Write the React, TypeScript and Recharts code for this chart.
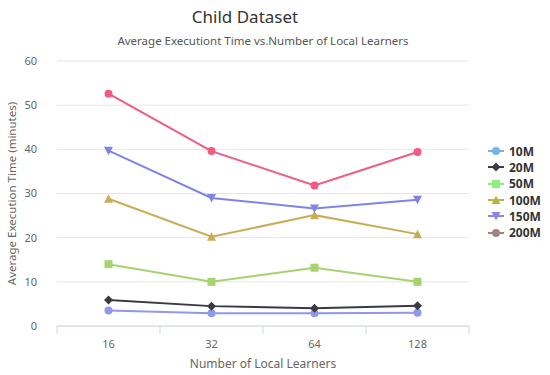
import React from 'react';
import {
  LineChart,
  Line,
  XAxis,
  YAxis,
  CartesianGrid,
  Legend,
  ReferenceLine,
} from 'recharts';

const categories = ['16', '32', '64', '128'];
const yTicks = [0, 10, 20, 30, 40, 50, 60];

const s10M = [3.5, 2.9, 2.9, 3.0];
const s20M = [5.9, 4.5, 4.0, 4.6];
const s50M = [14.0, 10.0, 13.2, 10.0];
const s100M = [28.8, 20.2, 25.1, 20.8];
const s150M = [39.7, 29.0, 26.6, 28.6];
const s200M = [52.6, 39.6, 31.8, 39.4];

const seriesNames = ['10M', '20M', '50M', '100M', '150M', '200M'];
const seriesValues = [s10M, s20M, s50M, s100M, s150M, s200M];
const lineColors = ['#8f98ea', '#3a3a40', '#a5d46f', '#c9ad56', '#7f84e6', '#f25a80'];
const legendColors = ['#72b3ea', '#3a3a40', '#8ef07e', '#b9b443', '#8a85ea', '#9c8583'];
const markers = ['circle', 'diamond', 'square', 'triangle', 'triangle-down', 'circle'];

const data = categories.map((c, i) => {
  const row: Record<string, number | string> = { idx: i, cat: c };
  seriesNames.forEach((name, k) => {
    row[name] = seriesValues[k][i];
  });
  return row;
});

const boundaries = [...categories.map((_, i) => i - 0.5), categories.length - 0.5];

const FONT = '"Noto Sans", "DejaVu Sans", sans-serif';

function Marker({ type, cx, cy, color }: { type: string; cx: number; cy: number; color: string }) {
  if (cx == null || cy == null) return null;
  switch (type) {
    case 'diamond':
      return <path d={`M${cx},${cy - 4.5}L${cx + 4.5},${cy}L${cx},${cy + 4.5}L${cx - 4.5},${cy}Z`} fill={color} />;
    case 'square':
      return <rect x={cx - 4} y={cy - 4} width={8} height={8} fill={color} />;
    case 'triangle':
      return <path d={`M${cx},${cy - 4.5}L${cx + 4.5},${cy + 4}L${cx - 4.5},${cy + 4}Z`} fill={color} />;
    case 'triangle-down':
      return <path d={`M${cx - 4.5},${cy - 4}L${cx + 4.5},${cy - 4}L${cx},${cy + 4.5}Z`} fill={color} />;
    default:
      return <circle cx={cx} cy={cy} r={4} fill={color} />;
  }
}

function LegendBox() {
  return (
    <div style={{ fontFamily: FONT }}>
      {seriesNames.map((name, i) => (
        <div
          key={name}
          style={{ display: 'flex', alignItems: 'center', height: 16.3, fontSize: 12, fontWeight: 'bold', color: '#333' }}
        >
          <svg width={16} height={12} style={{ marginRight: 5 }}>
            <line x1={0} y1={6} x2={16} y2={6} stroke={legendColors[i]} strokeWidth={2} />
            <Marker type={markers[i]} cx={8} cy={6} color={legendColors[i]} />
          </svg>
          {name}
        </div>
      ))}
    </div>
  );
}

export default function App() {
  return (
    <div style={{ position: 'absolute', left: 0, top: 0, width: 550, height: 375, background: '#fff' }}>
      <div
        style={{ position: 'absolute', top: 5, left: 145, width: 200, textAlign: 'center', fontFamily: FONT, fontSize: 17, color: '#333' }}
      >
        Child Dataset
      </div>
      <div
        style={{ position: 'absolute', top: 33, left: 63, width: 400, textAlign: 'center', fontFamily: FONT, fontSize: 11.5, color: '#555' }}
      >
        Average Executiont Time vs.Number of Local Learners
      </div>
      <LineChart width={550} height={375} data={data} margin={{ top: 61, right: 81, left: 0, bottom: 0 }}>
        <CartesianGrid horizontal vertical={false} stroke="#e6e6e6" />
        <XAxis
          dataKey="idx"
          type="number"
          domain={[-0.5, categories.length - 0.5]}
          ticks={categories.map((_, i) => i)}
          tickFormatter={(v: number) => categories[v]}
          height={49}
          axisLine={{ stroke: '#ccd6eb' }}
          tickLine={false}
          tick={{ fill: '#666', fontSize: 11, fontFamily: FONT }}
          tickMargin={8}
          label={{ value: 'Number of Local Learners', position: 'insideBottom', offset: 7, fill: '#666', fontSize: 12, fontFamily: FONT }}
        />
        <YAxis
          domain={[0, 60]}
          ticks={yTicks}
          width={57}
          axisLine={false}
          tickLine={false}
          tick={{ fill: '#666', fontSize: 11, fontFamily: FONT }}
          tickMargin={14}
          label={{
            value: 'Average Execution Time (minutes)',
            angle: -90,
            position: 'insideLeft',
            offset: 12,
            style: { textAnchor: 'middle' },
            fill: '#666',
            fontSize: 11.5,
            fontFamily: FONT,
          }}
        />
        {boundaries.map((b) => (
          <ReferenceLine
            key={b}
            segment={[{ x: b, y: 0 }, { x: b, y: -1.8 }]}
            stroke="#ccd6eb"
            ifOverflow="visible"
          />
        ))}
        {seriesNames.map((name, i) => (
          <Line
            key={name}
            dataKey={name}
            stroke={lineColors[i]}
            strokeWidth={2}
            isAnimationActive={false}
            dot={(p: any) => <Marker key={`${name}-${p.index}`} type={markers[i]} cx={p.cx} cy={p.cy} color={lineColors[i]} />}
            activeDot={false}
          />
        ))}
        <Legend
          layout="vertical"
          align="center"
          verticalAlign="middle"
          wrapperStyle={{ left: 488, top: 143, width: 62 }}
          content={() => <LegendBox />}
        />
      </LineChart>
    </div>
  );
}
